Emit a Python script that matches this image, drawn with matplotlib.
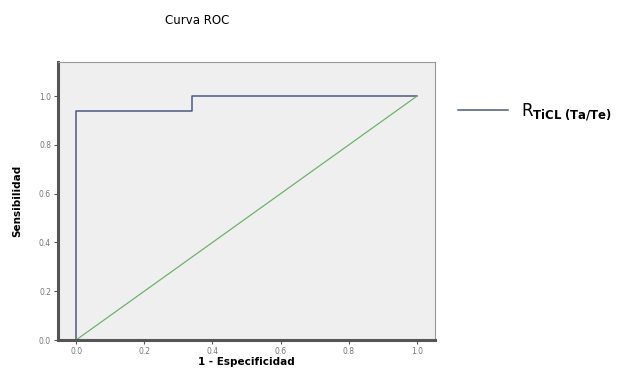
import numpy as np
import matplotlib.pyplot as plt

# ROC curve points (1 - specificity, sensitivity)
fpr = [0.0, 0.0, 0.34, 0.34, 1.0]
tpr = [0.0, 0.94, 0.94, 1.0, 1.0]
ref_line = [0.0, 1.0]
ticks = [0.0, 0.2, 0.4, 0.6, 0.8, 1.0]

fig = plt.figure(figsize=(6.34, 3.7), dpi=100)
ax = fig.add_axes([58/634, 1 - 340/370, 377/634, 278/370])
ax.set_facecolor('#efefef')

ax.plot(fpr, tpr, color='#4d5a7e', lw=1.1, label='R$_{\\mathbf{TiCL\\ (Ta/Te)}}$')
ax.plot(ref_line, ref_line, color='#6db36d', lw=0.9)

ax.set_xlim(-0.053, 1.053)
ax.set_ylim(0.0, 1.14)
ax.set_xticks(ticks)
ax.set_yticks(ticks)
ax.set_xticklabels(['%.1f' % t for t in ticks], fontsize=5.5, color='#777777')
ax.set_yticklabels(['%.1f' % t for t in ticks], fontsize=5.5, color='#777777')
ax.tick_params(length=3, width=0.8, pad=2, colors='#555555', labelcolor='#777777')

for s in ['left', 'bottom']:
    ax.spines[s].set_linewidth(2.2)
    ax.spines[s].set_color('#555555')
for s in ['top', 'right']:
    ax.spines[s].set_linewidth(0.8)
    ax.spines[s].set_color('#999999')

ax.set_xlabel('1 - Especificidad', fontsize=7.5, fontweight='bold', labelpad=1)
ax.set_ylabel('Sensibilidad', fontsize=7.5, fontweight='bold', labelpad=12)
fig.text(197/634, 1 - 20/370, 'Curva ROC', fontsize=8.5, fontweight='medium',
         ha='center', va='center')

# legend drawn at right of plot
leg = fig.legend(loc='center left', bbox_to_anchor=(443/634, 1 - 112/370), frameon=False,
                 fontsize=12, handlelength=3.0, handletextpad=0.8)

fig.savefig('out.png', dpi=100)
